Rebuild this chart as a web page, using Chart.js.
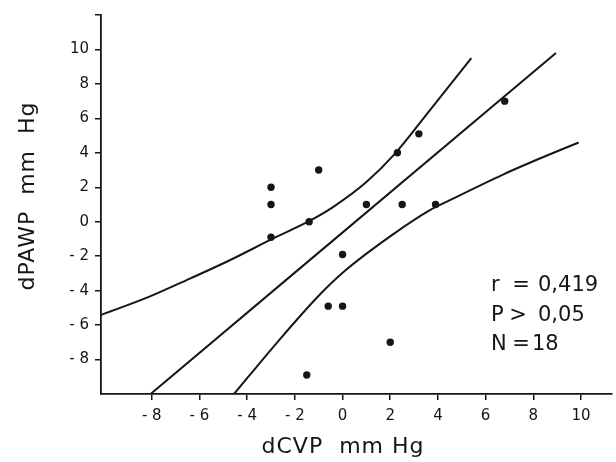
<!DOCTYPE html>
<html>
<head>
<meta charset="utf-8">
<script src="https://cdn.jsdelivr.net/npm/chart.js@4/dist/chart.umd.min.js"></script>
<style>
  body { margin: 0; background: #fff; }
  #wrap { width: 616px; height: 462px; position: relative; }
</style>
</head>
<body>
<div id="wrap"><canvas id="chart"></canvas></div>
<script>
// measured points (dCVP, dPAWP)
const cvp  = [-3, -3, -3, -1.4, -1, 2.3, 3.2, 6.8, 1, 2.5, 3.9, 0, -0.6, 0, 2, -1.5];
const pawp = [2, 1, -0.9, 0, 3, 4, 5.1, 7, 1, 1, 1, -1.9, -4.9, -4.9, -7, -8.9];

// regression line end points
const regX = [-8.05, 8.95];
const regY = [-10, 9.8];

// confidence band
const upperX = [-10.2, -8.1, -6.4, -4.75, -2.95, -1.45, -0.4, 1.0, 2.2, 3.65, 5.4];
const upperY = [-5.45, -4.35, -3.3, -2.25, -1.0, 0.0, 0.85, 2.3, 3.95, 6.45, 9.5];
const lowerX = [-4.55, -2.8, -1.0, 0.1, 2.1, 3.7, 4.5, 6.75, 7.9, 9.9];
const lowerY = [-10, -7.1, -4.3, -2.85, -0.75, 0.7, 1.25, 2.75, 3.45, 4.6];

const xTicks = [-8, -6, -4, -2, 0, 2, 4, 6, 8, 10];
const yTicks = [-8, -6, -4, -2, 0, 2, 4, 6, 8, 10, 12];

const xTitle = 'dCVP  mm Hg';
const yTitle = 'dPAWP  mm  Hg';
const stats = [['r', '=', '0,419'], ['P', '>', '0,05'], ['N', '=', '18']];

function pts(xs, ys) {
    return xs.map((x, i) => ({ x: x, y: ys[i] }));
}

const ink = '#161616';
const fontFam = '"DejaVu Sans", "Liberation Sans", sans-serif';

// axis titles and the r / P / N block
const textPlugin = {
    id: 'texts',
    afterDraw(chart) {
        const ctx = chart.ctx;
        ctx.save();
        ctx.fillStyle = ink;
        ctx.textBaseline = 'middle';

        ctx.font = '22px ' + fontFam;
        ctx.letterSpacing = '1px';
        ctx.textAlign = 'center';
        ctx.fillText(xTitle, 343, 447);

        ctx.save();
        ctx.translate(28, 196);
        ctx.rotate(-Math.PI / 2);
        ctx.fillText(yTitle, 0, 0);
        ctx.restore();

        ctx.letterSpacing = '0px';
        ctx.font = '21px ' + fontFam;
        stats.forEach((row, i) => {
            const y = 286 + i * 29.5;
            ctx.textAlign = 'left';
            ctx.fillText(row[0], 491, y);
            ctx.textAlign = 'center';
            ctx.fillText(row[1], i === 1 ? 518 : 521, y);
            ctx.textAlign = 'left';
            ctx.fillText(row[2], i === 2 ? 532 : 538, y);
        });
        ctx.restore();
    }
};

const lineStyle = {
    showLine: true,
    pointRadius: 0,
    borderColor: ink,
    borderWidth: 2,
    fill: false,
    cubicInterpolationMode: 'monotone'
};

const negLabel = v => v < 0 ? '- ' + Math.abs(v) : String(v);

new Chart(document.getElementById('chart').getContext('2d'), {
    type: 'scatter',
    data: {
        datasets: [
            {
                label: 'points',
                data: pts(cvp, pawp),
                pointRadius: 3.7,
                pointBackgroundColor: ink,
                pointBorderWidth: 0
            },
            Object.assign({ label: 'regression', data: pts(regX, regY) }, lineStyle),
            Object.assign({ label: 'upper', data: pts(upperX, upperY) }, lineStyle),
            Object.assign({ label: 'lower', data: pts(lowerX, lowerY) }, lineStyle)
        ]
    },
    options: {
        responsive: true,
        maintainAspectRatio: false,
        animation: false,
        layout: { padding: { top: 15, right: 3, left: 0, bottom: 0 } },
        plugins: {
            legend: { display: false },
            tooltip: { enabled: false }
        },
        scales: {
            x: {
                min: -10.13,
                max: 11.3,
                afterBuildTicks: s => { s.ticks = xTicks.map(v => ({ value: v })); },
                afterFit: s => { s.height = 68; },
                border: { display: true, color: ink, width: 1.8 },
                grid: { drawOnChartArea: false, drawTicks: true, tickLength: 6, color: ink, lineWidth: 1.5 },
                ticks: {
                    padding: 7,
                    color: ink,
                    font: { family: fontFam, size: 15 },
                    callback: negLabel
                }
            },
            y: {
                min: -10,
                max: 12,
                afterBuildTicks: s => { s.ticks = yTicks.map(v => ({ value: v })); },
                afterFit: s => { s.width = 101; },
                border: { display: true, color: ink, width: 1.8 },
                grid: { drawOnChartArea: false, drawTicks: true, tickLength: 6, color: ink, lineWidth: 1.5 },
                ticks: {
                    padding: 6,
                    color: ink,
                    font: { family: fontFam, size: 15 },
                    callback: v => v === 12 ? '' : negLabel(v)
                }
            }
        }
    },
    plugins: [textPlugin]
});
</script>
</body>
</html>
